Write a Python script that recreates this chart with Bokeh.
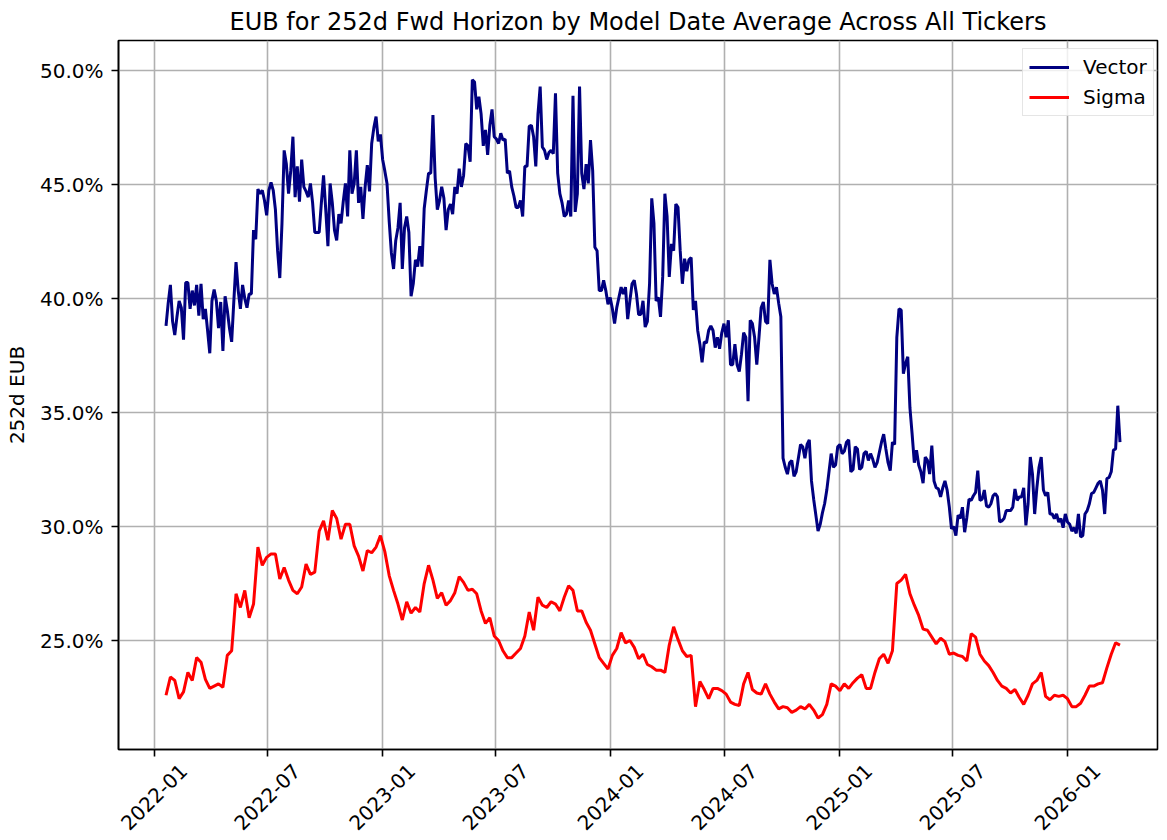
import math
import pandas as pd
from bokeh.plotting import figure
from bokeh.models import (FixedTicker, NumeralTickFormatter, DatetimeTickFormatter, Range1d, DatetimeAxis)
from bokeh.embed import file_html
from bokeh.resources import INLINE

# ---------------- data (values in %) ----------------
start_date = "2022-01-20"

# Vector: every 3.5 days
vector = [
    38.8, 39.8, 40.6, 39.0, 38.4, 39.2, 39.9, 39.6, 38.2, 40.7,
    40.7, 39.55, 40.35, 39.7, 40.6, 39.25, 40.65, 39.1, 39.55, 38.6,
    37.6, 39.9, 40.4, 39.9, 38.7, 39.85, 37.7, 40.1, 39.5, 38.7,
    38.1, 39.9, 41.6, 40.35, 39.55, 40.6, 40.0, 39.6, 40.2, 40.2,
    43.0, 42.6, 44.8, 44.6, 44.75, 44.3, 43.65, 44.75, 45.1, 44.75,
    43.9, 42.1, 40.9, 43.3, 46.5, 45.9, 44.6, 45.6, 47.1, 44.45,
    45.8, 44.25, 46.1, 44.9, 44.7, 44.45, 45.05, 44.2, 42.9, 42.9,
    42.9, 44.2, 45.4, 43.9, 42.3, 45.05, 44.2, 43.0, 42.55, 43.7,
    43.3, 44.25, 45.05, 43.6, 46.5, 44.6, 45.05, 46.5, 44.2, 44.9,
    43.5, 44.9, 45.85, 44.7, 46.8, 47.5, 47.98, 46.9, 47.2, 46.1,
    45.6, 45.05, 43.4, 42.0, 41.3, 42.55, 43.1, 44.2, 41.3, 43.1,
    43.6, 42.9, 40.1, 40.65, 41.7, 41.4, 42.3, 41.4, 43.95, 44.75,
    45.5, 45.5, 48.05, 45.3, 43.9, 44.3, 44.9, 44.4, 43.0, 43.9,
    44.15, 43.7, 44.9, 44.6, 45.7, 44.9, 45.4, 46.8, 46.7, 46.0,
    49.6, 49.5, 48.3, 48.85, 48.1, 46.7, 47.4, 46.3, 47.6, 48.3,
    47.1, 47.0, 46.8, 47.25, 46.95, 47.0, 45.5, 45.6, 44.9, 44.5,
    44.0, 44.0, 44.3, 43.6, 45.8, 45.8, 47.55, 47.6, 47.1, 45.8,
    48.1, 49.3, 46.65, 46.5, 46.1, 46.4, 46.5, 46.35, 49.0, 45.5,
    44.6, 44.2, 43.6, 43.7, 44.3, 43.6, 48.9, 43.8, 44.6, 49.3,
    45.5, 44.8, 45.9, 45.05, 46.95, 45.6, 42.25, 42.1, 40.35, 40.35,
    40.8, 40.35, 39.75, 40.05, 39.55, 38.9, 39.6, 40.05, 40.5, 40.2,
    40.5, 39.1, 39.9, 40.65, 40.8, 40.2, 39.3, 39.3, 39.9, 38.75,
    39.0, 40.65, 44.4, 43.3, 39.9, 40.05, 39.2, 40.95, 44.6, 43.6,
    40.95, 42.4, 42.1, 44.15, 44.0, 42.1, 40.65, 41.75, 41.2, 41.7,
    41.8, 39.5, 39.9, 38.6, 38.0, 37.2, 38.1, 38.05, 38.6, 38.8,
    38.6, 37.85, 38.3, 37.8, 38.5, 38.9, 38.3, 39.05, 37.1, 37.1,
    38.0, 37.1, 36.8, 37.55, 38.5, 38.3, 35.5, 39.05, 38.9, 38.3,
    37.1, 38.3, 39.6, 39.85, 39.0, 38.9, 41.7, 40.65, 40.2, 40.5,
    39.8, 39.2, 33.0, 32.6, 32.3, 32.8, 32.9, 32.2, 32.4, 33.0,
    33.6, 33.5, 33.0, 33.6, 33.8, 32.0, 31.2, 30.5, 29.8, 30.1,
    30.6, 31.0, 31.6, 32.4, 33.2, 32.6, 32.7, 33.5, 33.6, 33.2,
    33.3, 33.7, 33.8, 32.4, 32.5, 33.5, 33.4, 32.5, 32.6, 33.2,
    33.3, 32.9, 33.2, 32.95, 32.6, 32.8, 33.25, 33.7, 34.05, 33.4,
    32.8, 32.45, 33.7, 33.6, 38.3, 39.55, 39.5, 36.7, 37.15, 37.45,
    35.2, 34.05, 32.8, 33.35, 32.7, 32.4, 31.9, 33.05, 32.9, 32.3,
    33.55, 32.0, 31.7, 31.65, 31.3, 31.7, 32.0, 31.6, 30.85, 29.9,
    30.0, 29.6, 30.5, 30.35, 30.85, 29.75, 30.4, 31.2, 31.15, 31.35,
    31.5, 32.45, 31.15, 31.2, 31.6, 30.9, 30.85, 31.0, 31.35, 31.45,
    31.3, 30.2, 30.25, 30.35, 30.7, 30.7, 30.7, 30.85, 31.65, 31.15,
    31.3, 31.3, 31.7, 30.05, 31.0, 33.05, 32.3, 30.55, 31.7, 32.6,
    33.05, 31.6, 31.35, 31.5, 30.55, 30.55, 30.35, 30.55, 30.2, 30.35,
    29.95, 30.55, 30.2, 30.1, 29.8, 29.95, 29.7, 30.55, 29.55, 29.6,
    30.55, 30.7, 31.0, 31.45, 31.5, 31.7, 31.9, 32.0, 31.6, 30.55,
    32.1, 32.15, 32.4, 33.35, 33.4, 35.3,
    33.7,
]

# Sigma: weekly
sigma = [
    22.6, 23.4, 23.25, 22.45, 22.75, 23.6, 23.25, 24.25, 24.05, 23.3,
    22.9, 23.0, 23.1, 22.95, 24.35, 24.55, 27.05, 26.45, 27.2, 26.0,
    26.6, 29.1, 28.3, 28.65, 28.8, 28.8, 27.7, 28.2, 27.65, 27.2,
    27.05, 27.35, 28.35, 27.9, 28.0, 29.8, 30.25, 29.4, 30.7, 30.35,
    29.45, 30.1, 30.1, 29.15, 28.7, 28.05, 28.95, 28.85, 29.1, 29.6,
    28.9, 27.85, 27.2, 26.6, 25.9, 26.7, 26.2, 26.45, 26.25, 27.5,
    28.3, 27.65, 26.85, 27.1, 26.55, 26.75, 27.1, 27.8, 27.55, 27.2,
    27.25, 27.05, 26.3, 25.75, 26.0, 25.2, 25.0, 24.55, 24.25, 24.25,
    24.45, 24.65, 25.2, 26.25, 25.45, 26.9, 26.55, 26.45, 26.7, 26.6,
    26.3, 26.9, 27.4, 27.2, 26.3, 26.3, 25.8, 25.45, 24.85, 24.25,
    24.0, 23.75, 24.35, 24.65, 25.35, 24.9, 25.0, 24.7, 24.2, 24.4,
    23.95, 23.85, 23.7, 23.7, 23.6, 24.8, 25.6, 25.05, 24.55, 24.3,
    24.35, 22.1, 23.2, 22.85, 22.45, 22.9, 22.9, 22.8, 22.65, 22.3,
    22.2, 22.15, 23.1, 23.6, 22.85, 22.7, 22.65, 23.1, 22.65, 22.3,
    22.0, 22.1, 22.05, 21.85, 21.95, 22.1, 22.0, 22.2, 21.95, 21.6,
    21.75, 22.2, 23.1, 23.0, 22.8, 23.1, 22.9, 23.15, 23.35, 23.5,
    22.9, 22.9, 23.6, 24.2, 24.4, 24.0, 24.55, 27.5, 27.65, 27.9,
    27.05, 26.55, 26.1, 25.5, 25.45, 25.15, 24.85, 25.1, 24.95, 24.4,
    24.45, 24.35, 24.3, 24.1, 25.3, 25.15, 24.4, 24.1, 23.9, 23.6,
    23.25, 23.0, 22.9, 22.7, 22.85, 22.5, 22.2, 22.6, 23.1, 23.25,
    23.6, 22.55, 22.4, 22.6, 22.55, 22.6, 22.45, 22.1, 22.1, 22.25,
    22.6, 23.0, 23.0, 23.1, 23.15, 23.8, 24.4, 24.9, 24.8,
]

x_tick_dates = ["2022-01-01", "2022-07-01", "2023-01-01", "2023-07-01", "2024-01-01",
                "2024-07-01", "2025-01-01", "2025-07-01", "2026-01-01"]
x_tick_labels = ["2022-01", "2022-07", "2023-01", "2023-07", "2024-01",
                 "2024-07", "2025-01", "2025-07", "2026-01"]
y_tick_values = [0.25, 0.30, 0.35, 0.40, 0.45, 0.50]

# ---------------- figure ----------------
FONT = "DejaVu Sans"
dates_v = pd.date_range(start_date, periods=len(vector), freq="84h")
dates_s = pd.date_range(start_date, periods=len(sigma), freq="7D")

p = figure(width=1167, height=840, x_axis_type="datetime",
           output_backend="svg", toolbar_location=None,
           x_range=Range1d(pd.Timestamp("2021-11-05"), pd.Timestamp("2026-05-25")),
           y_range=Range1d(0.2022, 0.5132),
           min_border_left=118, min_border_right=10, min_border_top=40, min_border_bottom=91)

p.title.text = "EUB for 252d Fwd Horizon by Model Date Average Across All Tickers"
p.title.align = "center"
p.title.text_font = FONT
p.title.text_font_size = "24px"
p.title.text_font_style = "normal"
p.title.text_color = "black"
p.title.standoff = 10

p.line(dates_v, [v / 100 for v in vector], line_color="#000080", line_width=3, legend_label="Vector")
p.line(dates_s, [v / 100 for v in sigma], line_color="#ff0000", line_width=3, legend_label="Sigma")

tick_ms = [int(pd.Timestamp(d).value // 10**6) for d in x_tick_dates]

main_x = p.xaxis[0]
main_x.ticker = FixedTicker(ticks=tick_ms)
main_x.major_label_overrides = {ms: "" for ms in tick_ms}
main_x.major_label_text_font_size = "1px"
main_x.major_label_standoff = 0
p.xgrid.ticker = FixedTicker(ticks=tick_ms)

p.yaxis.ticker = FixedTicker(ticks=y_tick_values)
p.yaxis.formatter = NumeralTickFormatter(format="0.0%")
p.yaxis.axis_label = "252d EUB"

for ax in (main_x, p.yaxis[0]):
    ax.major_label_text_font = FONT
    ax.major_label_text_color = "black"
    ax.axis_label_text_font = FONT
    ax.axis_label_text_font_size = "20px"
    ax.axis_label_text_font_style = "normal"
    ax.axis_label_text_color = "black"
    ax.axis_line_color = "black"
    ax.axis_line_width = 1.6
    ax.major_tick_line_width = 1.6
    ax.major_tick_line_color = "black"
    ax.major_tick_out = 7
    ax.major_tick_in = 0
    ax.minor_tick_line_color = None
p.yaxis.major_label_text_font_size = "20px"
p.yaxis.major_label_standoff = 8
p.yaxis.axis_label_standoff = 8

# second axis carrying the rotated date labels, centred under each tick
shift_ms = int(47.3 * 86400000)
label_ticks = [ms + shift_ms for ms in tick_ms]
lab_ax = DatetimeAxis(ticker=FixedTicker(ticks=label_ticks),
                      formatter=DatetimeTickFormatter(days="%Y-%m", months="%Y-%m", years="%Y-%m"),
                      major_label_overrides=dict(zip(label_ticks, x_tick_labels)),
                      major_label_orientation=math.pi / 4,
                      major_label_standoff=5,
                      major_label_text_font=FONT, major_label_text_font_size="20px",
                      major_label_text_color="black",
                      axis_line_color=None, major_tick_line_color=None, minor_tick_line_color=None)
p.add_layout(lab_ax, "below")

p.xgrid.grid_line_color = "#b0b0b0"
p.ygrid.grid_line_color = "#b0b0b0"
p.xgrid.grid_line_width = 1.6
p.ygrid.grid_line_width = 1.6
p.outline_line_color = "black"
p.outline_line_width = 1.6

p.legend.location = (904, 633)
p.legend.label_text_font = FONT
p.legend.label_text_font_size = "20px"
p.legend.label_text_color = "black"
p.legend.glyph_width = 40
p.legend.glyph_height = 24
p.legend.label_height = 24
p.legend.label_standoff = 14
p.legend.spacing = 6
p.legend.padding = 6
p.legend.margin = 0
p.legend.border_line_color = "#cccccc"
p.legend.border_line_width = 1.5
p.legend.background_fill_alpha = 0.8

open("out.html", "w").write(file_html(p, INLINE))
